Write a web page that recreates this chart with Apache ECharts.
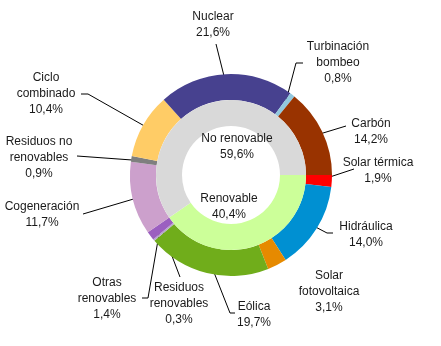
<!DOCTYPE html>
<html>
<head>
<meta charset="utf-8">
<script src="https://cdn.jsdelivr.net/npm/echarts@6/dist/echarts.min.js"></script>
<style>
  html, body { margin: 0; padding: 0; background: #fff; }
  #chart { width: 441px; height: 346px; }
</style>
</head>
<body>
<div id="chart"></div>
<script>
// Generation mix by technology (outer ring) and by renewable / non-renewable (inner ring)
const outerNames = ['Solar térmica', 'Hidráulica', 'Solar\nfotovoltaica', 'Eólica', 'Residuos\nrenovables',
  'Otras\nrenovables', 'Cogeneración', 'Residuos no\nrenovables', 'Ciclo\ncombinado', 'Nuclear',
  'Turbinación\nbombeo', 'Carbón'];
const outerValues = [1.9, 14.0, 3.1, 19.7, 0.3, 1.4, 11.7, 0.9, 10.4, 21.6, 0.8, 14.2];
const outerColors = ['#FF0000', '#0090D2', '#E68A00', '#70AD1B', '#B7A7CC', '#9B5FC0', '#CCA0CC',
  '#7F7F7F', '#FFCC66', '#47418F', '#92C8DE', '#993300'];

const innerNames = ['Renovable', 'No renovable'];
const innerValues = [40.4, 59.6];
const innerColors = ['#CCFF99', '#D9D9D9'];

const CENTER = [231, 175];
const R_HOLE = 49, R_MID = 75, R_OUT = 101;
const LINE_R = 89; // leader lines start in the middle of the outer band

// label block centres and leader-line end points (by outer data index)
const outerLabelPlace = [
  { pos: [378, 171], ends: [[354, 169]] },               // Solar térmica
  { pos: [366, 235], ends: [[327, 233], [333, 233]] },   // Hidráulica
  { pos: [329, 292], ends: null },                       // Solar fotovoltaica
  { pos: [254, 315], ends: [[230, 313], [235, 313]] },   // Eólica
  { pos: [179, 304], ends: [[180, 277]] },               // Residuos renovables
  { pos: [107, 299], ends: [[148, 298], [142, 298]] },   // Otras renovables
  { pos: [42, 215], ends: [[83, 214]] },                 // Cogeneración
  { pos: [39, 158], ends: [[77, 156]] },                 // Residuos no renovables
  { pos: [46, 94], ends: [[88, 94], [81, 94]] },         // Ciclo combinado
  { pos: [213, 25], ends: [[216, 44]] },                 // Nuclear
  { pos: [338, 63], ends: [[296, 63], [303, 63]] },      // Turbinación bombeo
  { pos: [371, 132], ends: [[346, 126]] }                // Carbón
];
const innerLabelPlace = [[229, 207], [237, 147]];

const fmt = v => v.toFixed(1).replace('.', ',') + '%';
const FONT = 'Liberation Sans';
const TXT = '#1a1a1a';

// mid-angle point of an outer slice at the given radius (angles clockwise from 3 o'clock)
const total = outerValues.reduce((a, b) => a + b, 0);
function midPoint(idx, r) {
  let acc = 0;
  for (let i = 0; i < idx; i++) acc += outerValues[i];
  const a = (acc + outerValues[idx] / 2) / total * 2 * Math.PI;
  return [CENTER[0] + r * Math.cos(a), CENTER[1] + r * Math.sin(a)];
}

const chart = echarts.init(document.getElementById('chart'), null, { renderer: 'canvas' });
chart.setOption({
  animation: false,
  backgroundColor: '#fff',
  series: [
    {
      type: 'pie',
      name: 'outer',
      center: CENTER,
      radius: [R_MID, R_OUT],
      startAngle: 0,
      clockwise: true,
      avoidLabelOverlap: false,
      emphasis: { disabled: true },
      silent: true,
      itemStyle: { borderWidth: 0 },
      label: {
        show: true,
        position: 'outside',
        color: TXT,
        fontFamily: FONT,
        fontSize: 12,
        lineHeight: 16,
        align: 'center',
        formatter: p => p.name + '\n' + fmt(p.value)
      },
      labelLine: { show: true, length: 10, length2: 10, lineStyle: { color: '#000', width: 1 } },
      labelLayout: function (params) {
        const place = outerLabelPlace[params.dataIndex];
        const out = { x: place.pos[0], y: place.pos[1], align: 'center', verticalAlign: 'middle' };
        if (place.ends) {
          out.labelLinePoints = [midPoint(params.dataIndex, LINE_R)].concat(place.ends);
        }
        return out;
      },
      data: outerNames.map((n, i) => ({
        name: n,
        value: outerValues[i],
        itemStyle: { color: outerColors[i] },
        labelLine: { show: outerLabelPlace[i].ends !== null }
      }))
    },
    {
      type: 'pie',
      name: 'inner',
      center: CENTER,
      radius: [R_HOLE, R_MID],
      startAngle: 0,
      clockwise: true,
      avoidLabelOverlap: false,
      emphasis: { disabled: true },
      silent: true,
      itemStyle: { borderWidth: 0 },
      label: {
        show: true,
        position: 'inside',
        color: TXT,
        fontFamily: FONT,
        fontSize: 12,
        lineHeight: 16,
        align: 'center',
        formatter: p => p.name + '\n' + fmt(p.value)
      },
      labelLine: { show: false },
      labelLayout: function (params) {
        const pos = innerLabelPlace[params.dataIndex];
        return { x: pos[0], y: pos[1], align: 'center', verticalAlign: 'middle' };
      },
      data: innerNames.map((n, i) => ({
        name: n,
        value: innerValues[i],
        itemStyle: { color: innerColors[i] }
      }))
    }
  ]
});
</script>
</body>
</html>
